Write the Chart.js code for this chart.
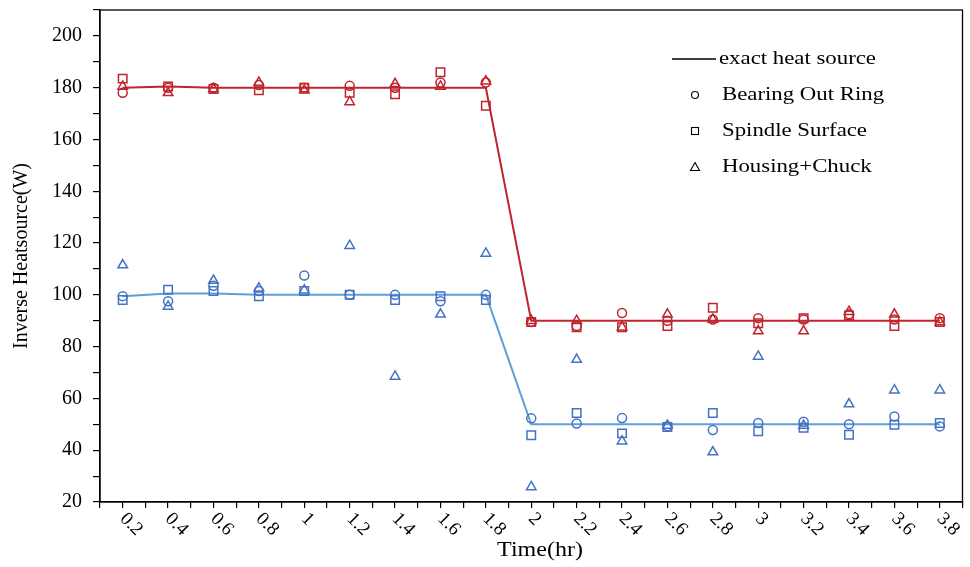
<!DOCTYPE html>
<html>
<head>
<meta charset="utf-8">
<title>Inverse Heatsource</title>
<script src="https://cdn.jsdelivr.net/npm/chart.js@4.4.1/dist/chart.umd.min.js"></script>
<style>
    body { margin: 0; background: #fff; }
    #wrap { width: 970px; height: 567px; position: relative; }
</style>
</head>
<body>
<div id="wrap"><canvas id="grafico"></canvas></div>
<script>
// time steps (hr)
const times = [0.2, 0.4, 0.6, 0.8, 1.0, 1.2, 1.4, 1.6, 1.8, 2.0, 2.2, 2.4, 2.6, 2.8, 3.0, 3.2, 3.4, 3.6, 3.8];

// exact heat source
const redExact  = [180, 180.5, 180, 180, 180, 180, 180, 180, 180, 90, 90, 90, 90, 90, 90, 90, 90, 90, 90];
const blueExact = [99.5, 100.5, 100.5, 100, 100, 100, 100, 100, 100, 50, 50, 50, 50, 50, 50, 50, 50, 50, 50];

// inverse estimates, heat source 1
const redCircle   = [178, 180, 180, 181, 180, 180.7, 180, 182, 182, 89.5, 88, 93, 90, 90.5, 91, 90.5, 92.5, 90.5, 91];
const redSquare   = [183.5, 180.5, 179.5, 179, 180, 178, 177.5, 186, 173, 89.5, 87.5, 87.5, 88, 95, 89, 91, 92, 88, 89.5];
const redTriangle = [180.5, 178, 179.5, 182, 179, 174.5, 181.5, 180.5, 182.5, 90, 90, 87.5, 92.5, 90.5, 86, 86, 93.5, 92.5, 89.5];

// inverse estimates, heat source 2
const blueCircle   = [99.5, 97.5, 103.5, 101.5, 107.5, 100, 100, 97.5, 100, 52.3, 50.3, 52.4, 49.3, 47.8, 50.5, 51, 50, 53, 49.2];
const blueSquare   = [98, 102, 101.5, 99.5, 101.5, 100, 98, 99.5, 98, 45.8, 54.4, 46.5, 49, 54.4, 47.3, 48.7, 46, 49.8, 50.5];
const blueTriangle = [111.5, 95.5, 105.5, 102.5, 101.8, 119, 68.5, 92.5, 116, 25.8, 75, 43.5, 49.5, 39.3, 76.2, 49.5, 57.8, 63.2, 63.2];

const legendLabels = ["exact heat source", "Bearing Out Ring", "Spindle Surface", "Housing+Chuck"];

const ROJO = "rgb(192,36,44)";
const AZUL = "rgb(68,114,196)";
const AZUL_LINEA = "rgb(96,158,216)";
const FUENTE = "'Liberation Serif', 'Times New Roman', serif";

const pares = vals => times.map((t, i) => ({ x: t, y: vals[i] }));

function puntos(vals, color, estilo, radio) {
    return {
        data: pares(vals),
        showLine: false,
        pointStyle: estilo,
        pointRadius: radio,
        pointBorderColor: color,
        pointBackgroundColor: "rgba(0,0,0,0)",
        pointBorderWidth: 1.5
    };
}

function linea(vals, color) {
    return {
        data: pares(vals),
        showLine: true,
        borderColor: color,
        borderWidth: 2,
        pointRadius: 0,
        tension: 0
    };
}

// stretched serif text, like the original figure
function texto(ctx, str, x, y, size, align, sx) {
    ctx.save();
    ctx.translate(x, y);
    ctx.scale(sx, 1);
    ctx.font = size + "px " + FUENTE;
    ctx.fillStyle = "#000";
    ctx.textAlign = align;
    ctx.textBaseline = "middle";
    ctx.fillText(str, 0, 0);
    ctx.restore();
}

// no extra room for tick labels at the ends of the axes
function sinRelleno(s) {
    s.paddingTop = 0;
    s.paddingBottom = 0;
    s.paddingLeft = 0;
    s.paddingRight = 0;
}

const extras = {
    id: "extras",
    afterDraw(chart) {
        const ctx = chart.ctx;
        const a = chart.chartArea;
        const xs = chart.scales.x;

        // frame
        ctx.save();
        ctx.strokeStyle = "#000";
        ctx.lineWidth = 1.3;
        ctx.strokeRect(a.left, a.top, a.right - a.left, a.bottom - a.top);
        ctx.restore();

        // rotated time labels
        times.forEach(t => {
            const px = xs.getPixelForValue(t);
            ctx.save();
            ctx.translate(px, a.bottom + 14);
            ctx.rotate(Math.PI / 4);
            ctx.font = "19px " + FUENTE;
            ctx.fillStyle = "#000";
            ctx.textAlign = "left";
            ctx.textBaseline = "middle";
            ctx.fillText(String(t), 0, 0);
            ctx.restore();
        });

        texto(ctx, "Time(hr)", 540, 551, 20, "center", 1.2);

        // legend
        const lx = 695;
        const filas = [59, 95, 131, 167];
        ctx.save();
        ctx.strokeStyle = "#000";
        ctx.lineWidth = 1.3;
        ctx.beginPath();
        ctx.moveTo(672, filas[0]);
        ctx.lineTo(716, filas[0]);
        ctx.stroke();
        ctx.lineWidth = 1.1;
        ctx.beginPath();
        ctx.arc(lx, filas[1], 3.5, 0, Math.PI * 2);
        ctx.stroke();
        ctx.strokeRect(lx - 3.5, filas[2] - 3.5, 7, 7);
        ctx.beginPath();
        ctx.moveTo(lx, filas[3] - 4.5);
        ctx.lineTo(lx + 4.5, filas[3] + 3.5);
        ctx.lineTo(lx - 4.5, filas[3] + 3.5);
        ctx.closePath();
        ctx.stroke();
        ctx.restore();
        legendLabels.forEach((lab, i) => {
            texto(ctx, lab, i === 0 ? 719 : 722, filas[i], 19, "left", 1.2);
        });
    }
};

new Chart(document.getElementById("grafico"), {
    type: "scatter",
    data: {
        datasets: [
            puntos(redCircle, ROJO, "circle", 4.5),
            puntos(redSquare, ROJO, "rect", 6),
            puntos(redTriangle, ROJO, "triangle", 5.5),
            puntos(blueCircle, AZUL, "circle", 4.5),
            puntos(blueSquare, AZUL, "rect", 6),
            puntos(blueTriangle, AZUL, "triangle", 5.5),
            linea(redExact, ROJO),
            linea(blueExact, AZUL_LINEA)
        ]
    },
    options: {
        responsive: true,
        maintainAspectRatio: false,
        animation: false,
        layout: { padding: { top: 10, right: 4, left: 0, bottom: 0 } },
        plugins: {
            legend: { display: false },
            tooltip: { enabled: false }
        },
        scales: {
            x: {
                type: "linear",
                min: 0.1,
                max: 3.9,
                afterFit: s => { s.height = 65; sinRelleno(s); },
                ticks: {
                    stepSize: 0.1,
                    autoSkip: false,
                    maxRotation: 0,
                    callback: () => "",
                    color: "rgba(0,0,0,0)"
                },
                grid: { drawOnChartArea: false, drawTicks: true, tickLength: 6, color: "#000", lineWidth: 1.2 },
                border: { display: true, color: "#000", width: 1.3 }
            },
            y: {
                min: 20,
                max: 210,
                afterFit: s => { s.width = 100; sinRelleno(s); },
                ticks: {
                    stepSize: 10,
                    autoSkip: false,
                    padding: 11,
                    color: "#000",
                    font: { family: FUENTE, size: 20 },
                    callback: v => (v % 20 === 0 && v <= 200 ? v : "")
                },
                grid: { drawOnChartArea: false, drawTicks: true, tickLength: 7, color: "#000", lineWidth: 1.2 },
                border: { display: true, color: "#000", width: 1.3 },
                title: {
                    display: true,
                    text: "Inverse Heatsource(W)",
                    color: "#000",
                    font: { family: FUENTE, size: 20 },
                    padding: { top: 10, bottom: 0 }
                }
            }
        }
    },
    plugins: [extras]
});
</script>
</body>
</html>
